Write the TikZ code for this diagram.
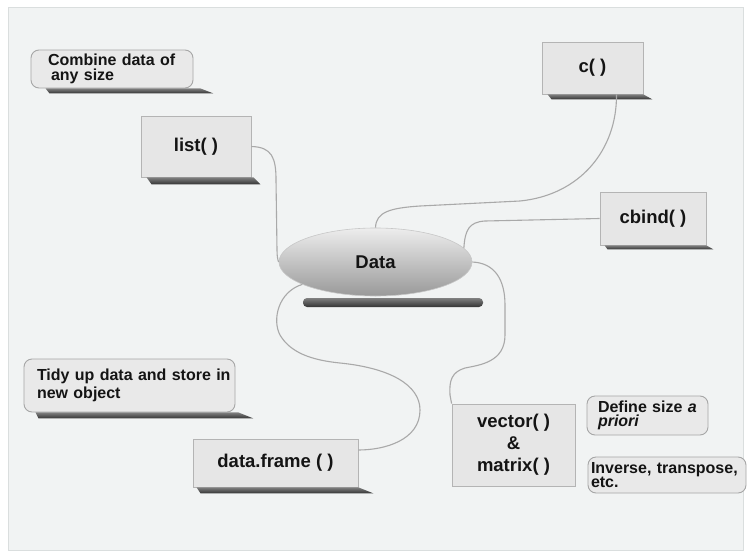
\documentclass[tikz,border=0pt]{standalone}
\usepackage{fontspec}
\setmainfont{Liberation Sans}
\usetikzlibrary{shapes.geometric}
\definecolor{panelbg}{HTML}{F1F3F3}
\definecolor{panelln}{HTML}{DADEDE}
\definecolor{boxfill}{HTML}{E6E6E6}
\definecolor{boxline}{HTML}{B4B4B4}
\definecolor{notefill}{HTML}{E9E9E9}
\definecolor{noteline}{HTML}{A6A6A6}
\definecolor{connc}{HTML}{A9A9A9}
\definecolor{txt}{HTML}{141414}
\tikzset{
 fnbox/.style={rectangle, fill=boxfill, draw=boxline, line width=0.8pt, inner sep=0pt, align=center, font=\fontsize{18.5}{22}\selectfont\bfseries, text=txt},
 notebox/.style={rectangle, rounded corners=8pt, fill=notefill, draw=noteline, line width=0.9pt, align=left, inner ysep=0pt, font=\fontsize{16}{14.5}\selectfont\bfseries, text=txt},
 dropshadow/.style={top color=black!50, bottom color=black!80},
 conn/.style={draw=connc, line width=1.1pt},
}
\begin{document}
\begin{tikzpicture}[x=1pt,y=-1pt]
\useasboundingbox (0,0) rectangle (752,557);
\fill[white] (0,0) rectangle (752,557);
\filldraw[fill=panelbg, draw=panelln, line width=0.8pt] (8,7) rectangle (743,550);

% nodes
\node[fnbox, minimum width=110pt, minimum height=61pt] (list) at (196,146.5) {list( )};
\node[fnbox, minimum width=101pt, minimum height=52pt] (c) at (592.5,68) {c( )};
\node[fnbox, minimum width=106pt, minimum height=53pt] (cbind) at (653,218.5) {cbind( )};
\node[fnbox, minimum width=165pt, minimum height=48pt] (dataframe) at (275.5,463) {data.frame ( )};
\node[fnbox, minimum width=123pt, minimum height=82pt] (vector) at (513.5,445) {vector( )\\[0pt]\&\\[0pt]matrix( )};

\shade[dropshadow, rounded corners=4pt] (303,298) rectangle (483,307);
\node[ellipse, minimum width=193pt, minimum height=68pt, inner sep=0pt, top color=black!7, bottom color=black!40, draw=black!22, line width=0.6pt, font=\fontsize{18.5}{22}\selectfont\bfseries, text=txt] (data) at (375.5,262) {Data};

\node[notebox, text width=128pt, inner xsep=17pt, minimum height=38pt] (combine) at (112,69) {\mbox{Combine data of}\\\hspace*{3pt}any size};
\node[notebox, text width=185pt, inner xsep=13pt, minimum height=53pt, font=\fontsize{16}{18}\selectfont\bfseries] (tidy) at (129.5,385.5) {\mbox{Tidy up data and store in}\\new object};
\node[notebox, text width=99pt, inner xsep=11pt, minimum height=39pt] (define) at (647.5,415.5) {\mbox{Define size \textit{a}}\\\textit{priori}};
\node[notebox, text width=152pt, inner xsep=3pt, minimum height=36pt] (inverse) at (667,475) {\mbox{Inverse, transpose,}\\etc.};

% shadows
\shade[dropshadow] ([xshift=15pt]combine.south west) -- ([xshift=7pt]combine.south east) -- ([xshift=20pt,yshift=-5pt]combine.south east) -- ([xshift=19pt,yshift=-5pt]combine.south west) -- cycle;
\shade[dropshadow] ([xshift=6pt]list.south west) -- ([xshift=2pt]list.south east) -- ([xshift=9pt,yshift=-7pt]list.south east) -- ([xshift=11pt,yshift=-7pt]list.south west) -- cycle;
\shade[dropshadow] ([xshift=6pt]c.south west) -- (c.south east) -- ([xshift=9pt,yshift=-5pt]c.south east) -- ([xshift=10pt,yshift=-5pt]c.south west) -- cycle;
\shade[dropshadow] ([xshift=5pt]cbind.south west) -- (cbind.south east) -- ([xshift=7pt,yshift=-4pt]cbind.south east) -- ([xshift=8pt,yshift=-4pt]cbind.south west) -- cycle;
\shade[dropshadow] ([xshift=12pt]tidy.south west) -- ([xshift=3pt]tidy.south east) -- ([xshift=18pt,yshift=-6pt]tidy.south east) -- ([xshift=15pt,yshift=-6pt]tidy.south west) -- cycle;
\shade[dropshadow] ([xshift=4pt]dataframe.south west) -- (dataframe.south east) -- ([xshift=15pt,yshift=-6pt]dataframe.south east) -- ([xshift=8pt,yshift=-6pt]dataframe.south west) -- cycle;

% connectors
\draw[conn] (list.east) .. controls (272,147) and (276,158) .. (276,180) -- (277,250) .. controls (277,257) and (278,261) .. (data.west);
\draw[conn] ([xshift=24pt]c.south) .. controls (617,150) and (580,195) .. (520,201) -- (420,206) .. controls (390,208) and (376,212) .. (data.north);
\draw[conn] (cbind.west) -- (485,221) .. controls (469,222) and (465,230) .. (data.9);
\draw[conn] (data.east) .. controls (495,263) and (505,280) .. (505,305) -- (505,335) .. controls (505,362) and (480,365) .. (465,368) .. controls (452,372) and (449,380) .. (450,395) -- (vector.north west);
\draw[conn] (data.197) .. controls (278,292) and (272,320) .. (280,335) .. controls (290,352) and (310,360) .. (340,363) .. controls (390,368) and (420,385) .. (420,410) .. controls (420,440) and (385,450) .. ([yshift=13pt]dataframe.east);
\end{tikzpicture}
\end{document}
